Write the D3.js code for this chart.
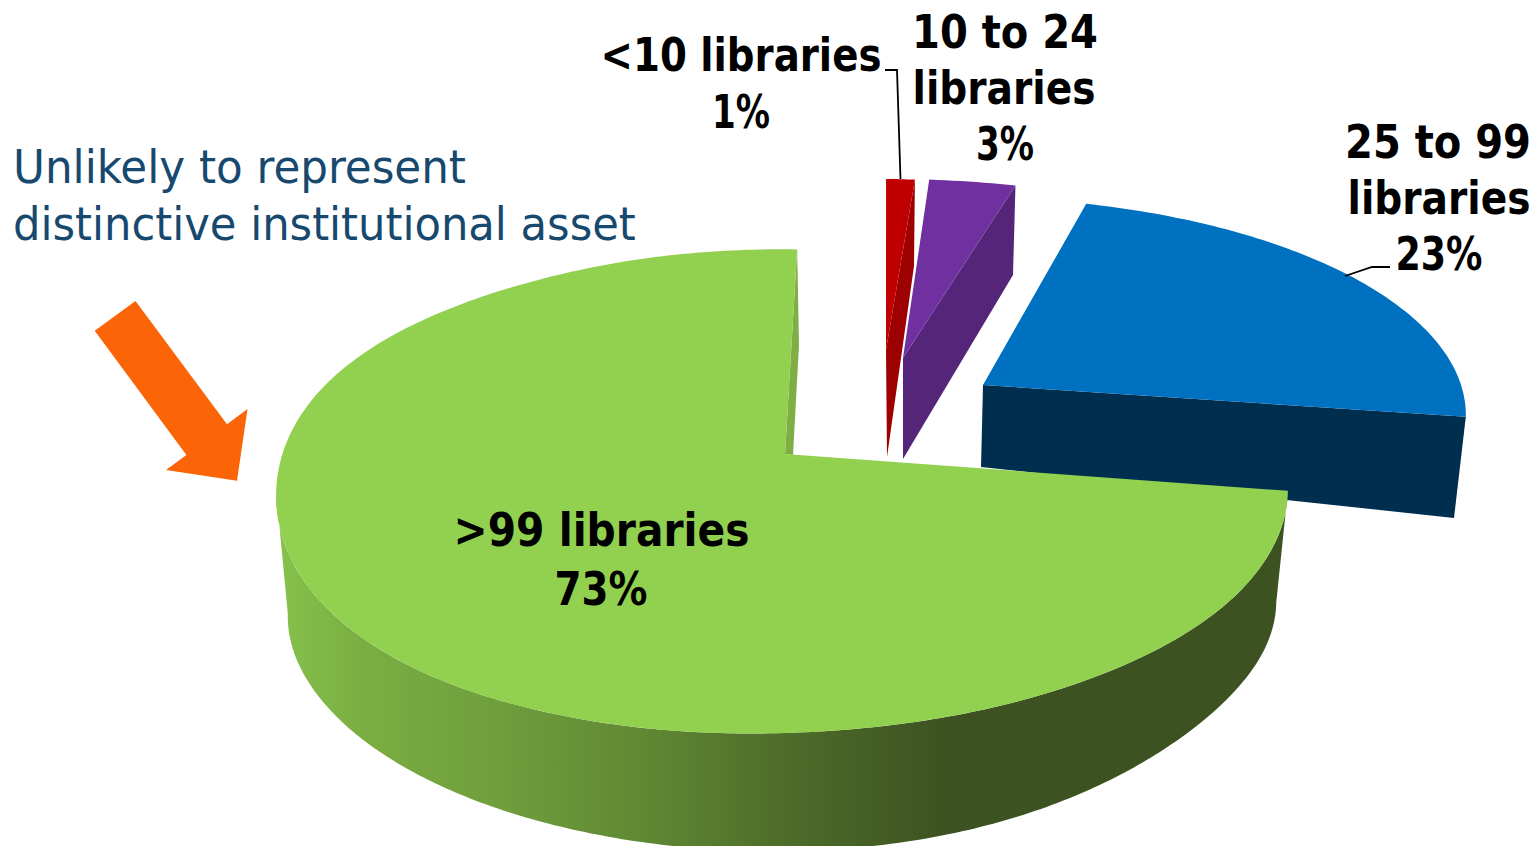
<!DOCTYPE html>
<html><head><meta charset="utf-8">
<script src="https://cdnjs.cloudflare.com/ajax/libs/d3/7.8.5/d3.min.js"></script>
<style>html,body{margin:0;padding:0;background:#fff;overflow:hidden}svg{display:block}
text{font-family:"DejaVu Sans",sans-serif;font-stretch:condensed}</style></head>
<body><svg id="c" width="1535" height="846"></svg>
<script>
const categories = ["<10 libraries","10 to 24 libraries","25 to 99 libraries",">99 libraries"];
const shares = [1,3,23,73];
const topColors = ["#c00000","#7030a0","#0070c0","#92d050"];
const wallColors = ["#9c0000","#55257a","#002e4f","url(#rim)"];
const calloutLines = ["Unlikely to represent","distinctive institutional asset"];

// drawing layout (exploded 3-D pie, one rim centre per slice)
const R = {rx:500, ry:237, p:0.152, rot:2*Math.PI/180};
const geom = [
 {cx:870,cy:364,sx:1.06,sy:.9,apex:[886,350],apexB:[887,457],rimB:[914,266]},
 {cx:884,cy:364,sx:1.067,sy:.9,apex:[903,358],apexB:[903,459],rimB:[1013,275]},
 {cx:964,cy:382,sx:.992,sy:.898,apex:[983,385],apexB:[981,467],rimB:[1454,518]},
 {cx:782,cy:455,sx:1,sy:1,apex:[785,454],apexB:[793,455]}
];
const svg = d3.select("#c");
const defs = svg.append("defs");
const g = defs.append("linearGradient").attr("id","rim").attr("gradientUnits","userSpaceOnUse")
  .attr("x1",276).attr("x2",1288).attr("y1",0).attr("y2",0);
[[276,"#86c24c"],[360,"#7bae42"],[500,"#6f9e3c"],[650,"#5f8733"],[760,"#50712b"],[950,"#3c5220"],[1288,"#3c5220"]]
 .forEach(s=>g.append("stop").attr("offset",(s[0]-276)/(1288-276)).attr("stop-color",s[1]));

const pie = d3.pie().sort(null).startAngle(R.rot).endAngle(R.rot+2*Math.PI);
const arcs = pie(shares);
const rim = (a,t)=>{ const u=Math.sin(a),v=Math.cos(a),w=1+R.p*v;
  return [t.cx+t.sx*R.rx*u/w, t.cy-t.sy*R.ry*v/w]; };
const samples = (a0,a1,n)=>d3.range(n+1).map(i=>a0+(a1-a0)*i/n);
const line = d3.line();
const deg = a=>a*180/Math.PI;
// small shape corrections of the large slice's outline, by angle in degrees
const topAdj = d3.scaleLinear()
  .domain([99,130,141,161,180,196,207,221,235,243,255,270,277,290,308,322,340,362])
  .range([-3,-4,-6,-5,-2,4,6,11,10,11,6,0,-2,-3,-1,1,0,0]);
const lowAdj = d3.scaleLinear()
  .domain([99,115,128,140,150,160,180,230,250,262])
  .range([-8,-14,-17,-12,-8,-3,0,2,4,8]);
const smooth = (sc,d)=>d3.mean(d3.range(-7,8),k=>sc(d+k*1.5));
const bigTop = a=>{const p=rim(a,geom[3]);return [p[0],p[1]+smooth(topAdj,deg(a))];};
const bigLow = a=>{const p=rim(a,geom[3]);return [782+(p[0]-782)*.977,p[1]+117+smooth(lowAdj,deg(a))];};
const face = (d,t,i)=>[t.apex,...samples(d.startAngle,d.endAngle,Math.max(8,Math.round((d.endAngle-d.startAngle)*60))).map(a=>i===3?bigTop(a):rim(a,t))];

const layer = svg.append("g");
function wedge(i){
  const d=arcs[i],t=geom[i];
  if(i<3){
    const outer=rim(d.endAngle,t);
    layer.append("path").attr("d",line([t.apex,outer,t.rimB,t.apexB])+"Z").attr("fill",wallColors[i]);
  } else {
    // outer cylinder wall, up to the left-hand silhouette
    const as=samples(d.startAngle,262*Math.PI/180,240);
    const up=as.map(bigTop), low=as.map(bigLow).reverse();
    layer.append("path").attr("d",line([...up,...low])+"Z").attr("fill",wallColors[i]);
    // inner radial wall seen behind the top edge
    layer.append("path").attr("d",line([bigTop(d.endAngle),[799,345],t.apexB,t.apex])+"Z").attr("fill","#7fae45");
  }
  layer.append("path").attr("d",line(face(d,t,i))+"Z").attr("fill",topColors[i]);
}
[2,3,0,1].forEach(wedge);

// arrow
svg.append("path").attr("fill","#fb6507")
  .attr("d",line([[135.5,301],[94.7,330.7],[186.4,455],[166,470],[237,480.7],[247.5,409],[227,424.3]])+"Z");

// leader lines
const leaders=[[[885,70],[897,70],[900.5,179]],[[1345,276],[1372,267],[1390,267]]];
leaders.forEach(l=>svg.append("path").attr("d",d3.line()(l)).attr("fill","none").attr("stroke","#000").attr("stroke-width",1.8));

// labels: each line is fitted horizontally to its width with a scale transform
const fit=(sel,x,y,w)=>{const n=sel.node().getComputedTextLength();
  sel.attr("transform",`translate(${x},${y}) scale(${w/n},1)`);};
const pct = shares.map(v=>v+"%");
const labels=[
 {t:"<10 libraries",x:741,y:71,w:281},{t:pct[0],x:741,y:128,w:58},
 {t:"10 to 24",x:1005,y:48,w:186},{t:"libraries",x:1004,y:104,w:183},{t:pct[1],x:1005,y:160,w:58},
 {t:"25 to 99",x:1438,y:158,w:186},{t:"libraries",x:1439,y:214,w:183},{t:pct[2],x:1439,y:270,w:87},
 {t:">99 libraries",x:601.5,y:546,w:296},{t:pct[3],x:601,y:605,w:93}
];
labels.forEach(l=>{const s=svg.append("text").attr("text-anchor","middle")
  .attr("font-size",47).attr("font-weight",700).attr("fill","#000").text(l.t);
  fit(s,l.x,l.y,l.w);});
[[calloutLines[0],183,453],[calloutLines[1],240,623]].forEach(c=>{const s=svg.append("text")
  .attr("font-size",46).attr("fill","#17496f").text(c[0]);
  fit(s,13,c[1],c[2]);});
</script></body></html>
